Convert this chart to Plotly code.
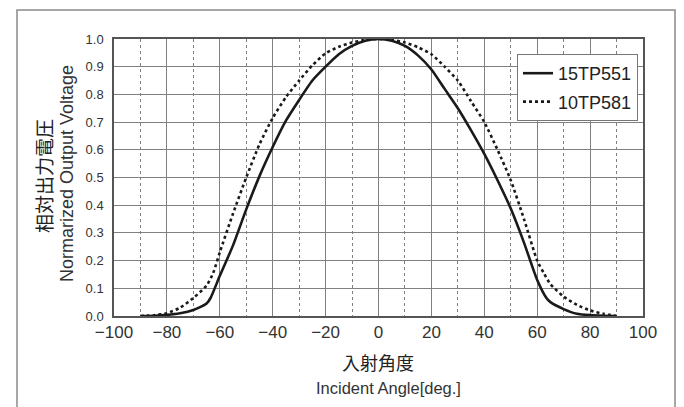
import plotly.graph_objects as go

# ---- data ----
solid_angle = [-90, -85, -80, -75, -70, -65, -63.5, -60, -55, -50, -45, -40, -35, -30, -25, -20, -15, -10, -5, 0,
               5, 10, 15, 20, 25, 30, 35, 40, 45, 50, 55, 60, 63.5, 65, 70, 75, 80, 85, 90]
solid_value = [0.0, 0.001, 0.004, 0.01, 0.022, 0.045, 0.065, 0.145, 0.255, 0.385, 0.505, 0.61, 0.705, 0.78, 0.85, 0.9, 0.945, 0.975, 0.994, 1.0,
               0.994, 0.975, 0.94, 0.89, 0.82, 0.75, 0.67, 0.585, 0.49, 0.388, 0.265, 0.13, 0.065, 0.05, 0.025, 0.008, 0.003, 0.001, 0.0]

dotted_angle = [-90, -85, -80, -75, -70, -65, -62.5, -60, -55, -50, -45, -40, -35, -30, -25, -20, -15, -10, -5, 0,
                5, 10, 15, 20, 25, 30, 35, 40, 45, 50, 55, 60, 62.5, 65, 70, 75, 80, 85, 90]
dotted_value = [0.0, 0.003, 0.01, 0.03, 0.065, 0.11, 0.155, 0.23, 0.37, 0.5, 0.62, 0.715, 0.79, 0.85, 0.905, 0.948, 0.972, 0.987, 0.997, 1.0,
                0.997, 0.987, 0.97, 0.945, 0.9, 0.85, 0.775, 0.7, 0.6, 0.49, 0.35, 0.2, 0.155, 0.115, 0.07, 0.04, 0.02, 0.008, 0.0]

series_names = ["15TP551", "10TP581"]
x_ticks = [-100, -80, -60, -40, -20, 0, 20, 40, 60, 80, 100]
y_ticks = [0.0, 0.1, 0.2, 0.3, 0.4, 0.5, 0.6, 0.7, 0.8, 0.9, 1.0]

LATIN = "Liberation Sans, Arial, sans-serif"
CJK = "Noto Sans CJK JP, sans-serif"

fig = go.Figure()
fig.add_trace(go.Scatter(x=solid_angle, y=solid_value, mode="lines", name=series_names[0],
                         line=dict(color="#1a1a1a", width=2.6, shape="spline", smoothing=0.6), legendgroup="a"))
fig.add_trace(go.Scatter(x=dotted_angle, y=dotted_value, mode="lines", name=series_names[1],
                         line=dict(color="#1a1a1a", width=2.6, dash="3px,3px", shape="spline", smoothing=0.6),
                         legendgroup="b"))

OFF = 8  # page body margin offset
L, R, T, B = 114 - OFF, 643 - OFF, 39 - OFF, 316 - OFF
W, H = R - L, B - T

def px(xs):
    return (xs - OFF - L) / W

def py(ys):
    return (B - (ys - OFF)) / H

fig.update_layout(
    width=684, height=407,
    margin=dict(l=L, r=684 - R, t=T, b=407 - B),
    paper_bgcolor="white", plot_bgcolor="white",
    font=dict(family=LATIN, color="#333333"),
    showlegend=True,
    legend=dict(x=px(638), y=py(54), xanchor="right", yanchor="top",
                bgcolor="white", bordercolor="#777777", borderwidth=1,
                font=dict(size=18, family=LATIN, color="#222222"),
                traceorder="grouped", tracegroupgap=2, itemwidth=30),
    xaxis=dict(range=[-100, 100], tickvals=x_ticks, ticktext=[("\u2212" + str(abs(v))) if v < 0 else str(v) for v in x_ticks],
               showgrid=True, gridcolor="#808080", gridwidth=1,
               minor=dict(dtick=10, tick0=0, showgrid=True, gridcolor="#808080", griddash="3px,3px", gridwidth=1),
               showline=True, linecolor="#555555", linewidth=1.5, mirror=True,
               zeroline=False, ticks="", tickfont=dict(size=17, family=LATIN, color="#333333")),
    yaxis=dict(range=[0, 1.0], tickvals=y_ticks, tickformat=".1f",
               showgrid=True, gridcolor="#808080", gridwidth=1,
               showline=True, linecolor="#555555", linewidth=1.5, mirror=True,
               zeroline=False, ticks="", ticklabelstandoff=6,
               tickfont=dict(size=13, family=LATIN, color="#333333")),
)

# outer frame
fig.add_shape(type="rect", xref="paper", yref="paper",
              x0=px(17), x1=px(675), y0=py(420), y1=py(10),
              line=dict(color="#8a8a8a", width=1.5), fillcolor="rgba(0,0,0,0)", layer="below")

# axis titles
fig.add_annotation(xref="paper", yref="paper", x=px(43), y=py(176), text="相対出力電圧",
                   xanchor="center", yanchor="middle",
                   textangle=-90, showarrow=False, font=dict(size=19, family=CJK, color="#222222"))
fig.add_annotation(xref="paper", yref="paper", x=px(67), y=py(174), text="Normarized Output Voltage",
                   xanchor="center", yanchor="middle",
                   textangle=-90, showarrow=False, font=dict(size=18, family=LATIN, color="#333333"))
fig.add_annotation(xref="paper", yref="paper", x=px(378), y=py(362), text="入射角度",
                   xanchor="center", yanchor="middle",
                   showarrow=False, font=dict(size=18, family=CJK, color="#222222"))
fig.add_annotation(xref="paper", yref="paper", x=px(388), y=py(388), text="Incident Angle[deg.]",
                   xanchor="center", yanchor="middle",
                   showarrow=False, font=dict(size=16.5, family=LATIN, color="#333333"))

fig.write_html("out.html")
